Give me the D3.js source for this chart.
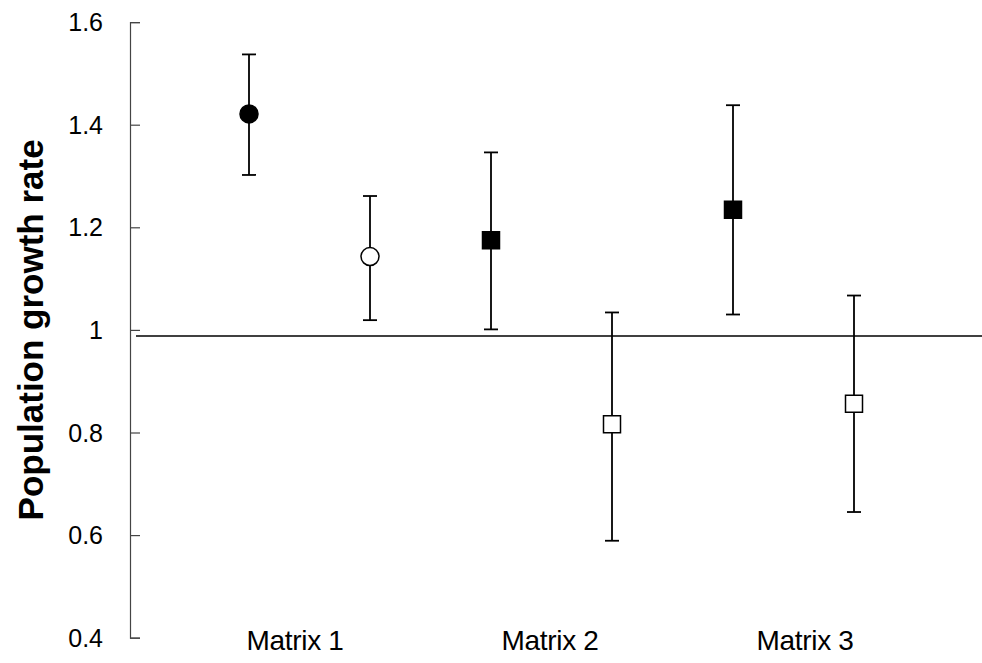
<!DOCTYPE html>
<html>
<head>
<meta charset="utf-8">
<script src="https://cdn.jsdelivr.net/npm/d3@7"></script>
<style>
  body { margin: 0; background: #fff; }
  svg { display: block; font-family: "Liberation Sans", Arial, sans-serif; }
</style>
</head>
<body>
<svg id="chart" width="982" height="663"></svg>
<script>
// groups along the x axis
var groups = ["Matrix 1", "Matrix 2", "Matrix 3"];
var shapes = ["circle", "square", "square"];

// filled markers (first of each pair)
var filledMean = [1.421, 1.175, 1.234];
var filledLow  = [1.302, 1.001, 1.030];
var filledHigh = [1.537, 1.346, 1.438];

// open markers (second of each pair)
var openMean = [1.143, 0.816, 0.856];
var openLow  = [1.019, 0.589, 0.645];
var openHigh = [1.261, 1.034, 1.067];

var yTicks = [0.4, 0.6, 0.8, 1.0, 1.2, 1.4, 1.6];
var refValue = 0.988;

var svg = d3.select("#chart");

var y = d3.scaleLinear().domain([0.4, 1.6]).range([637.7, 22.1]);
var xBand = d3.scaleBand().domain(groups).range([188.5, 914.5]);
var xSub = d3.scalePoint().domain(["filled", "open"]).range([60.5, 181.5]);
// category labels sit a bit off the pair centres
var xLabel = d3.scalePoint().domain(groups).range([295, 805]);

// build rows from the arrays
var rows = [];
groups.forEach(function(g, i){
    rows.push({group: g, kind: "filled", shape: shapes[i], mean: filledMean[i], lo: filledLow[i], hi: filledHigh[i]});
    rows.push({group: g, kind: "open", shape: shapes[i], mean: openMean[i], lo: openLow[i], hi: openHigh[i]});
});
function px(d){ return xBand(d.group) + xSub(d.kind); }

// y axis
var axis = d3.axisRight(y).tickValues(yTicks).tickSize(10).tickFormat("");
var gAxis = svg.append("g").attr("transform", "translate(130,0)").call(axis);
gAxis.select(".domain").attr("stroke", "#444").attr("stroke-width", 1.2);
gAxis.selectAll(".tick line").attr("stroke", "#444").attr("stroke-width", 1.2);

svg.append("g").selectAll("text").data(yTicks).join("text")
    .attr("x", 103)
    .attr("y", function(d){ return y(d); })
    .attr("dy", "0.36em")
    .attr("text-anchor", "end")
    .attr("font-size", 25)
    .text(function(d){ return d === 1 ? "1" : d3.format(".1f")(d); });

// axis title
svg.append("text")
    .attr("transform", "translate(43," + y(1.0) + ") rotate(-90)")
    .attr("text-anchor", "middle")
    .attr("font-size", 35)
    .attr("font-weight", "bold")
    .text("Population growth rate");

// reference line
svg.append("line")
    .attr("x1", 136).attr("x2", 982)
    .attr("y1", y(refValue)).attr("y2", y(refValue))
    .attr("stroke", "#000").attr("stroke-width", 1.6);

// error bars
var bars = svg.append("g").selectAll("g").data(rows).join("g")
    .attr("stroke", "#000").attr("stroke-width", 1.8);
bars.append("line")
    .attr("x1", px).attr("x2", px)
    .attr("y1", function(d){ return y(d.hi); })
    .attr("y2", function(d){ return y(d.lo); });
bars.append("line")
    .attr("x1", function(d){ return px(d) - 7; })
    .attr("x2", function(d){ return px(d) + 7; })
    .attr("y1", function(d){ return y(d.hi); })
    .attr("y2", function(d){ return y(d.hi); });
bars.append("line")
    .attr("x1", function(d){ return px(d) - 7; })
    .attr("x2", function(d){ return px(d) + 7; })
    .attr("y1", function(d){ return y(d.lo); })
    .attr("y2", function(d){ return y(d.lo); });

// markers
var sym = d3.symbol().type(function(d){ return d.shape === "circle" ? d3.symbolCircle : d3.symbolSquare; })
    .size(function(d){ return d.shape === "circle" ? Math.PI * 81 : 17 * 17; });
svg.append("g").selectAll("path").data(rows).join("path")
    .attr("transform", function(d){ return "translate(" + px(d) + "," + y(d.mean) + ")"; })
    .attr("d", sym)
    .attr("fill", function(d){ return d.kind === "filled" ? "#000" : "#fff"; })
    .attr("stroke", "#000")
    .attr("stroke-width", 1.5);

// category labels
svg.append("g").selectAll("text").data(groups).join("text")
    .attr("x", function(d){ return xLabel(d); })
    .attr("y", 650)
    .attr("text-anchor", "middle")
    .attr("font-size", 28)
    .attr("letter-spacing", "-0.3")
    .text(function(d){ return d; });
</script>
</body>
</html>
